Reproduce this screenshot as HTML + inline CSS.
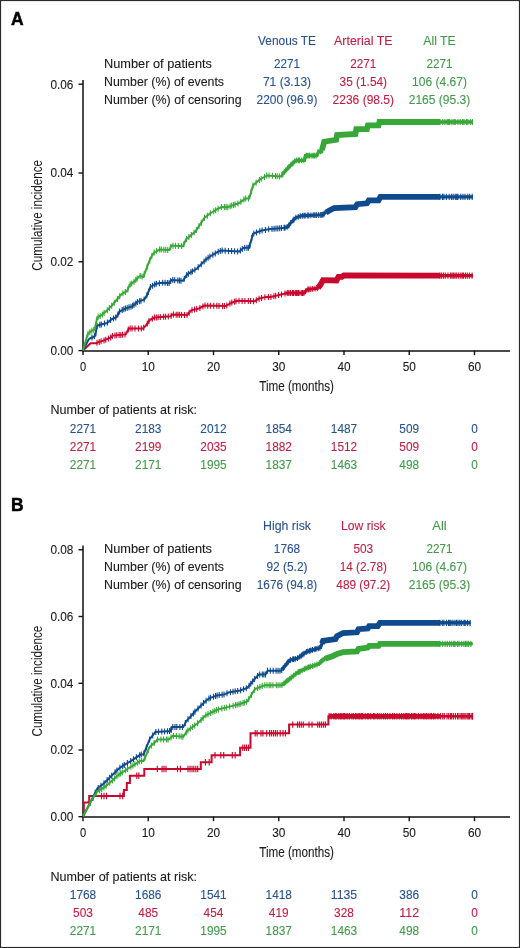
<!DOCTYPE html>
<html><head><meta charset="utf-8"><style>
html,body{margin:0;padding:0;background:#fff;}
svg{display:block;will-change:transform;}
text{font-family:"Liberation Sans",sans-serif;stroke-width:0.1px;}
</style></head><body>
<svg width="520" height="948" viewBox="0 0 520 948">
<rect x="0" y="0" width="520" height="948" fill="#fff"/>
<rect x="0.5" y="0.5" width="519" height="947" fill="none" stroke="#2a2a2a" stroke-width="1.2"/>
<text x="11" y="25" fill="#000" stroke="#000" font-size="18" text-anchor="start" textLength="12.6" lengthAdjust="spacingAndGlyphs" font-weight="bold" style="stroke-width:0.5px">A</text>
<text x="287" y="45" fill="#28528c" stroke="#28528c" font-size="12.4" text-anchor="middle" textLength="57.900000000000006" lengthAdjust="spacingAndGlyphs">Venous TE</text>
<text x="363.3" y="45" fill="#bc1f44" stroke="#bc1f44" font-size="12.4" text-anchor="middle" textLength="58.5" lengthAdjust="spacingAndGlyphs">Arterial TE</text>
<text x="439.5" y="45" fill="#43994a" stroke="#43994a" font-size="12.4" text-anchor="middle" textLength="32.5" lengthAdjust="spacingAndGlyphs">All TE</text>
<text x="104" y="67.7" fill="#1a1a1a" stroke="#1a1a1a" font-size="12.4" text-anchor="start" textLength="108" lengthAdjust="spacingAndGlyphs">Number of patients</text>
<text x="287" y="67.7" fill="#28528c" stroke="#28528c" font-size="12.4" text-anchor="middle" textLength="26.0" lengthAdjust="spacingAndGlyphs">2271</text>
<text x="363.3" y="67.7" fill="#bc1f44" stroke="#bc1f44" font-size="12.4" text-anchor="middle" textLength="26.0" lengthAdjust="spacingAndGlyphs">2271</text>
<text x="439.5" y="67.7" fill="#43994a" stroke="#43994a" font-size="12.4" text-anchor="middle" textLength="26.0" lengthAdjust="spacingAndGlyphs">2271</text>
<text x="104" y="85.5" fill="#1a1a1a" stroke="#1a1a1a" font-size="12.4" text-anchor="start" textLength="120" lengthAdjust="spacingAndGlyphs">Number (%) of events</text>
<text x="287" y="85.5" fill="#28528c" stroke="#28528c" font-size="12.4" text-anchor="middle" textLength="48.2" lengthAdjust="spacingAndGlyphs">71 (3.13)</text>
<text x="363.3" y="85.5" fill="#bc1f44" stroke="#bc1f44" font-size="12.4" text-anchor="middle" textLength="47.5" lengthAdjust="spacingAndGlyphs">35 (1.54)</text>
<text x="439.5" y="85.5" fill="#43994a" stroke="#43994a" font-size="12.4" text-anchor="middle" textLength="54.8" lengthAdjust="spacingAndGlyphs">106 (4.67)</text>
<text x="104" y="103.5" fill="#1a1a1a" stroke="#1a1a1a" font-size="12.4" text-anchor="start" textLength="137.6" lengthAdjust="spacingAndGlyphs">Number (%) of censoring</text>
<text x="287" y="103.5" fill="#28528c" stroke="#28528c" font-size="12.4" text-anchor="middle" textLength="60.9" lengthAdjust="spacingAndGlyphs">2200 (96.9)</text>
<text x="363.3" y="103.5" fill="#bc1f44" stroke="#bc1f44" font-size="12.4" text-anchor="middle" textLength="61.5" lengthAdjust="spacingAndGlyphs">2236 (98.5)</text>
<text x="439.5" y="103.5" fill="#43994a" stroke="#43994a" font-size="12.4" text-anchor="middle" textLength="61.5" lengthAdjust="spacingAndGlyphs">2165 (95.3)</text>
<path d="M83 80 V350.90000000000003 H510" fill="none" stroke="#111" stroke-width="1.5"/>
<path d="M78.5 84.2 H83" stroke="#111" stroke-width="1.4"/>
<text x="73.4" y="88.5" fill="#1a1a1a" stroke="#1a1a1a" font-size="12.4" text-anchor="end" textLength="23" lengthAdjust="spacingAndGlyphs">0.06</text>
<path d="M78.5 173.0 H83" stroke="#111" stroke-width="1.4"/>
<text x="73.4" y="177.3" fill="#1a1a1a" stroke="#1a1a1a" font-size="12.4" text-anchor="end" textLength="23" lengthAdjust="spacingAndGlyphs">0.04</text>
<path d="M78.5 261.8 H83" stroke="#111" stroke-width="1.4"/>
<text x="73.4" y="266.1" fill="#1a1a1a" stroke="#1a1a1a" font-size="12.4" text-anchor="end" textLength="23" lengthAdjust="spacingAndGlyphs">0.02</text>
<path d="M78.5 350.6 H83" stroke="#111" stroke-width="1.4"/>
<text x="73.4" y="354.90000000000003" fill="#1a1a1a" stroke="#1a1a1a" font-size="12.4" text-anchor="end" textLength="23" lengthAdjust="spacingAndGlyphs">0.00</text>
<path d="M83.0 350.6 V355.1" stroke="#111" stroke-width="1.4"/>
<text x="83.0" y="371.20000000000005" fill="#1a1a1a" stroke="#1a1a1a" font-size="12.4" text-anchor="middle" textLength="6.2" lengthAdjust="spacingAndGlyphs">0</text>
<path d="M148.25 350.6 V355.1" stroke="#111" stroke-width="1.4"/>
<text x="148.25" y="371.20000000000005" fill="#1a1a1a" stroke="#1a1a1a" font-size="12.4" text-anchor="middle" textLength="13.2" lengthAdjust="spacingAndGlyphs">10</text>
<path d="M213.5 350.6 V355.1" stroke="#111" stroke-width="1.4"/>
<text x="213.5" y="371.20000000000005" fill="#1a1a1a" stroke="#1a1a1a" font-size="12.4" text-anchor="middle" textLength="13.2" lengthAdjust="spacingAndGlyphs">20</text>
<path d="M278.75 350.6 V355.1" stroke="#111" stroke-width="1.4"/>
<text x="278.75" y="371.20000000000005" fill="#1a1a1a" stroke="#1a1a1a" font-size="12.4" text-anchor="middle" textLength="13.2" lengthAdjust="spacingAndGlyphs">30</text>
<path d="M344.0 350.6 V355.1" stroke="#111" stroke-width="1.4"/>
<text x="344.0" y="371.20000000000005" fill="#1a1a1a" stroke="#1a1a1a" font-size="12.4" text-anchor="middle" textLength="13.2" lengthAdjust="spacingAndGlyphs">40</text>
<path d="M409.25 350.6 V355.1" stroke="#111" stroke-width="1.4"/>
<text x="409.25" y="371.20000000000005" fill="#1a1a1a" stroke="#1a1a1a" font-size="12.4" text-anchor="middle" textLength="13.2" lengthAdjust="spacingAndGlyphs">50</text>
<path d="M474.5 350.6 V355.1" stroke="#111" stroke-width="1.4"/>
<text x="474.5" y="371.20000000000005" fill="#1a1a1a" stroke="#1a1a1a" font-size="12.4" text-anchor="middle" textLength="13.2" lengthAdjust="spacingAndGlyphs">60</text>
<text x="259.2" y="390.90000000000003" fill="#1a1a1a" stroke="#1a1a1a" font-size="13.8" text-anchor="start" textLength="74.8" lengthAdjust="spacingAndGlyphs">Time (months)</text>
<text x="0" y="0" fill="#1a1a1a" font-size="14.6" text-anchor="middle" textLength="110.8" lengthAdjust="spacingAndGlyphs" transform="translate(41.6 215.3) rotate(-90)">Cumulative incidence</text>
<text x="50.5" y="414.40000000000003" fill="#1a1a1a" stroke="#1a1a1a" font-size="12.4" text-anchor="start" textLength="146.5" lengthAdjust="spacingAndGlyphs">Number of patients at risk:</text>
<text x="83.0" y="432.6" fill="#28528c" stroke="#28528c" font-size="12.4" text-anchor="middle" textLength="26.4" lengthAdjust="spacingAndGlyphs">2271</text>
<text x="148.25" y="432.6" fill="#28528c" stroke="#28528c" font-size="12.4" text-anchor="middle" textLength="26.4" lengthAdjust="spacingAndGlyphs">2183</text>
<text x="213.5" y="432.6" fill="#28528c" stroke="#28528c" font-size="12.4" text-anchor="middle" textLength="26.4" lengthAdjust="spacingAndGlyphs">2012</text>
<text x="278.75" y="432.6" fill="#28528c" stroke="#28528c" font-size="12.4" text-anchor="middle" textLength="26.4" lengthAdjust="spacingAndGlyphs">1854</text>
<text x="344.0" y="432.6" fill="#28528c" stroke="#28528c" font-size="12.4" text-anchor="middle" textLength="26.4" lengthAdjust="spacingAndGlyphs">1487</text>
<text x="409.25" y="432.6" fill="#28528c" stroke="#28528c" font-size="12.4" text-anchor="middle" textLength="19.8" lengthAdjust="spacingAndGlyphs">509</text>
<text x="474.5" y="432.6" fill="#28528c" stroke="#28528c" font-size="12.4" text-anchor="middle" textLength="6.6" lengthAdjust="spacingAndGlyphs">0</text>
<text x="83.0" y="450.6" fill="#bc1f44" stroke="#bc1f44" font-size="12.4" text-anchor="middle" textLength="26.4" lengthAdjust="spacingAndGlyphs">2271</text>
<text x="148.25" y="450.6" fill="#bc1f44" stroke="#bc1f44" font-size="12.4" text-anchor="middle" textLength="26.4" lengthAdjust="spacingAndGlyphs">2199</text>
<text x="213.5" y="450.6" fill="#bc1f44" stroke="#bc1f44" font-size="12.4" text-anchor="middle" textLength="26.4" lengthAdjust="spacingAndGlyphs">2035</text>
<text x="278.75" y="450.6" fill="#bc1f44" stroke="#bc1f44" font-size="12.4" text-anchor="middle" textLength="26.4" lengthAdjust="spacingAndGlyphs">1882</text>
<text x="344.0" y="450.6" fill="#bc1f44" stroke="#bc1f44" font-size="12.4" text-anchor="middle" textLength="26.4" lengthAdjust="spacingAndGlyphs">1512</text>
<text x="409.25" y="450.6" fill="#bc1f44" stroke="#bc1f44" font-size="12.4" text-anchor="middle" textLength="19.8" lengthAdjust="spacingAndGlyphs">509</text>
<text x="474.5" y="450.6" fill="#bc1f44" stroke="#bc1f44" font-size="12.4" text-anchor="middle" textLength="6.6" lengthAdjust="spacingAndGlyphs">0</text>
<text x="83.0" y="468.6" fill="#43994a" stroke="#43994a" font-size="12.4" text-anchor="middle" textLength="26.4" lengthAdjust="spacingAndGlyphs">2271</text>
<text x="148.25" y="468.6" fill="#43994a" stroke="#43994a" font-size="12.4" text-anchor="middle" textLength="26.4" lengthAdjust="spacingAndGlyphs">2171</text>
<text x="213.5" y="468.6" fill="#43994a" stroke="#43994a" font-size="12.4" text-anchor="middle" textLength="26.4" lengthAdjust="spacingAndGlyphs">1995</text>
<text x="278.75" y="468.6" fill="#43994a" stroke="#43994a" font-size="12.4" text-anchor="middle" textLength="26.4" lengthAdjust="spacingAndGlyphs">1837</text>
<text x="344.0" y="468.6" fill="#43994a" stroke="#43994a" font-size="12.4" text-anchor="middle" textLength="26.4" lengthAdjust="spacingAndGlyphs">1463</text>
<text x="409.25" y="468.6" fill="#43994a" stroke="#43994a" font-size="12.4" text-anchor="middle" textLength="19.8" lengthAdjust="spacingAndGlyphs">498</text>
<text x="474.5" y="468.6" fill="#43994a" stroke="#43994a" font-size="12.4" text-anchor="middle" textLength="6.6" lengthAdjust="spacingAndGlyphs">0</text>
<path d="M83.0 350.5 L90.6 343.3 L96.3 343.3 L97.8 342.3 L104.0 340.4 L110.8 337.5 L112.7 335.6 L125.8 334.4 L128.7 328.6 L143.0 328.4 L145.4 326.1 L150.0 319.8 L154.6 317.5 L170.7 316.3 L171.9 314.6 L187.3 315.0 L191.2 310.4 L198.8 308.5 L204.6 305.6 L225.8 306.0 L231.5 302.7 L237.3 300.8 L254.6 301.2 L258.5 298.8 L266.2 296.9 L270.8 296.9 L284.3 293.7 L286.7 293.0 L304.2 293.0 L306.9 289.6 L317.7 288.3 L320.4 284.9 L323.0 280.2 L336.5 280.5 L338.5 276.8 L341.9 276.8 L343.9 275.5 L473.0 275.6" fill="none" stroke="#c8082c" stroke-width="2.0" stroke-linejoin="miter"/>
<path d="M285.0 293.5 L286.7 293.0 L304.2 293.0 L306.9 289.6 L317.7 288.3 L318.0 287.9" fill="none" stroke="#c8082c" stroke-width="3.0" stroke-linejoin="miter"/>
<path d="M318.0 287.9 L320.4 284.9 L323.0 280.2 L336.5 280.5 L338.5 276.8 L341.9 276.8 L343.9 275.5 L440.0 275.6" fill="none" stroke="#c8082c" stroke-width="5.8" stroke-linejoin="miter"/>
<path d="M440.0 275.6 L473.0 275.6" fill="none" stroke="#c8082c" stroke-width="3.4" stroke-linejoin="miter"/>
<path d="M97.0 339.8V345.8M99.2 338.9V344.9M101.1 338.3V344.3M104.0 337.4V343.4M105.7 336.7V342.7M108.4 335.5V341.5M110.7 334.5V340.5M112.4 332.9V338.9M115.0 332.4V338.4M116.7 332.2V338.2M119.1 332.0V338.0M120.8 331.9V337.9M122.6 331.7V337.7M125.0 331.5V337.5M128.3 326.4V332.4M130.1 325.6V331.6M132.1 325.6V331.6M135.0 325.5V331.5M138.5 325.5V331.5M141.3 325.4V331.4M143.7 324.7V330.7M147.3 320.5V326.5M148.9 318.3V324.3M152.3 315.7V321.7M154.4 314.6V320.6M156.3 314.4V320.4M158.1 314.2V320.2M160.3 314.1V320.1M163.6 313.8V319.8M165.5 313.7V319.7M168.3 313.5V319.5M171.2 312.7V318.7M173.5 311.6V317.6M176.2 311.7V317.7M177.9 311.8V317.8M179.6 311.8V317.8M181.6 311.9V317.9M184.5 311.9V317.9M187.0 312.0V318.0M189.2 309.8V315.8M192.0 307.2V313.2M194.5 306.6V312.6M196.7 306.0V312.0M199.9 305.0V311.0M202.9 303.5V309.5M205.0 302.6V308.6M207.7 302.7V308.7M210.4 302.7V308.7M213.7 302.8V308.8M216.8 302.8V308.8M219.0 302.9V308.9M222.6 302.9V308.9M224.4 303.0V309.0M226.8 302.4V308.4M229.9 300.6V306.6M231.8 299.6V305.6M234.4 298.8V304.8M236.0 298.2V304.2M239.0 297.8V303.8M242.1 297.9V303.9M244.9 298.0V304.0M248.3 298.1V304.1M250.5 298.1V304.1M253.5 298.2V304.2M256.3 297.2V303.2M259.1 295.7V301.7M261.6 295.0V301.0M264.9 294.2V300.2M268.4 293.9V299.9M270.9 293.9V299.9M273.9 293.2V299.2M275.6 292.8V298.8M278.6 292.1V298.1M281.5 291.4V297.4M285.0 290.6V296.4M287.3 290.1V295.9M288.8 290.1V295.9M290.4 290.1V295.9M292.4 290.1V295.9M293.5 290.1V295.9M295.3 290.1V295.9M296.6 290.1V295.9M297.9 290.1V295.9M299.0 290.1V295.9M301.2 290.1V295.9M302.5 290.1V295.9M303.9 290.1V295.9M305.6 288.4V294.2M307.9 286.6V292.4M309.1 286.4V292.2M310.8 286.2V292.0M312.7 286.0V291.8M315.0 285.7V291.5M317.3 285.4V291.2M440.0 272.5V278.7M441.6 272.5V278.7M443.5 272.5V278.7M445.3 272.5V278.7M447.9 272.5V278.7M450.6 272.5V278.7M452.1 272.5V278.7M453.6 272.5V278.7M455.1 272.5V278.7M456.7 272.5V278.7M458.7 272.5V278.7M460.8 272.5V278.7M462.4 272.5V278.7M463.6 272.5V278.7M465.5 272.5V278.7M467.3 272.5V278.7M469.4 272.5V278.7M472.1 272.5V278.7" stroke="#c8082c" stroke-width="1.1"/>
<path d="M83.0 350.5 L88.7 339.4 L90.6 338.0 L93.5 337.0 L95.4 335.6 L96.8 326.0 L99.2 325.0 L107.0 323.0 L111.7 319.2 L116.5 317.3 L119.4 311.5 L124.6 308.8 L131.5 306.5 L135.0 304.2 L137.3 301.9 L144.2 299.6 L147.1 295.0 L150.4 287.0 L156.1 283.8 L161.9 282.7 L169.2 283.0 L171.5 280.0 L183.0 280.8 L187.0 274.6 L197.0 268.5 L206.2 259.2 L210.8 256.0 L218.5 251.5 L221.5 250.5 L239.2 251.5 L243.8 247.7 L249.2 247.7 L253.0 233.8 L260.8 230.8 L268.5 229.2 L285.4 227.7 L288.5 226.2 L290.0 223.5 L295.8 217.7 L301.5 215.8 L322.7 214.8 L328.5 211.0 L334.2 208.0 L355.4 207.1 L357.3 204.2 L366.9 203.3 L368.8 200.4 L378.5 200.4 L380.4 196.9 L473.0 196.9" fill="none" stroke="#0f4b8c" stroke-width="2.0" stroke-linejoin="miter"/>
<path d="M285.0 227.7 L285.4 227.7 L288.5 226.2 L290.0 223.5 L295.8 217.7 L301.5 215.8 L322.7 214.8 L326.0 212.6" fill="none" stroke="#0f4b8c" stroke-width="3.0" stroke-linejoin="miter"/>
<path d="M326.0 212.6 L328.5 211.0 L334.2 208.0 L355.4 207.1 L357.3 204.2 L366.9 203.3 L368.8 200.4 L378.5 200.4 L380.4 196.9 L440.0 196.9" fill="none" stroke="#0f4b8c" stroke-width="5.8" stroke-linejoin="miter"/>
<path d="M440.0 196.9 L473.0 196.9" fill="none" stroke="#0f4b8c" stroke-width="3.4" stroke-linejoin="miter"/>
<path d="M92.0 334.5V340.5M94.4 333.3V339.3M97.1 322.9V328.9M99.8 321.8V327.8M101.3 321.5V327.5M104.5 320.6V326.6M107.4 319.6V325.6M110.6 317.1V323.1M113.5 315.5V321.5M115.7 314.6V320.6M117.9 311.4V317.4M119.6 308.4V314.4M122.2 307.0V313.0M123.8 306.2V312.2M125.4 305.5V311.5M127.2 304.9V310.9M129.0 304.3V310.3M131.0 303.7V309.7M132.6 302.8V308.8M134.0 301.8V307.8M135.8 300.4V306.4M137.4 298.9V304.9M139.5 298.2V304.2M141.0 297.7V303.7M144.1 296.6V302.6M146.8 292.5V298.5M148.5 288.7V294.7M150.4 284.0V290.0M152.5 282.8V288.8M154.7 281.6V287.6M156.3 280.8V286.8M159.4 280.2V286.2M162.7 279.7V285.7M165.1 279.8V285.8M167.4 279.9V285.9M169.1 280.0V286.0M170.7 278.1V284.1M172.8 277.1V283.1M174.7 277.2V283.2M177.8 277.4V283.4M179.5 277.6V283.6M181.0 277.7V283.7M184.3 275.8V281.8M186.7 272.0V278.0M188.4 270.7V276.7M190.9 269.2V275.2M192.4 268.3V274.3M194.9 266.8V272.8M198.2 264.3V270.3M201.3 261.2V267.2M204.1 258.4V264.4M206.0 256.4V262.4M208.1 254.8V260.8M209.9 253.6V259.6M212.8 251.8V257.8M215.3 250.4V256.4M218.2 248.7V254.7M220.3 247.9V253.9M222.2 247.5V253.5M225.2 247.7V253.7M228.5 247.9V253.9M231.6 248.1V254.1M234.6 248.2V254.2M237.6 248.4V254.4M240.4 247.5V253.5M242.3 245.9V251.9M244.7 244.7V250.7M246.9 244.7V250.7M248.4 244.7V250.7M249.9 242.3V248.3M251.8 235.1V241.1M253.8 230.5V236.5M256.5 229.4V235.4M259.8 228.2V234.2M262.1 227.5V233.5M265.4 226.9V232.9M268.7 226.2V232.2M272.0 225.9V231.9M274.1 225.7V231.7M276.0 225.5V231.5M277.8 225.4V231.4M279.7 225.2V231.2M281.5 225.0V231.0M284.1 224.8V230.8M285.0 224.8V230.6M287.2 223.9V229.7M288.8 222.7V228.5M290.7 219.9V225.7M292.9 217.7V223.5M294.0 216.6V222.4M295.9 214.8V220.6M298.2 214.0V219.8M300.2 213.3V219.1M302.3 212.9V218.7M304.0 212.8V218.6M305.2 212.7V218.5M307.3 212.6V218.4M308.8 212.6V218.4M310.9 212.5V218.3M313.2 212.3V218.1M314.8 212.3V218.1M316.4 212.2V218.0M318.7 212.1V217.9M320.7 212.0V217.8M321.9 211.9V217.7M323.1 211.6V217.4M324.3 210.8V216.6M440.0 193.8V200.0M442.5 193.8V200.0M443.9 193.8V200.0M446.4 193.8V200.0M449.2 193.8V200.0M451.5 193.8V200.0M453.2 193.8V200.0M455.3 193.8V200.0M456.7 193.8V200.0M457.9 193.8V200.0M460.7 193.8V200.0M462.9 193.8V200.0M465.0 193.8V200.0M467.7 193.8V200.0M469.6 193.8V200.0M472.2 193.8V200.0" stroke="#0f4b8c" stroke-width="1.1"/>
<path d="M83.0 350.5 L87.7 334.0 L91.5 330.8 L94.4 329.8 L95.9 324.0 L97.3 317.3 L101.2 315.4 L106.9 310.6 L111.7 305.8 L116.5 300.0 L121.5 294.2 L127.3 290.7 L129.6 285.0 L134.2 281.5 L140.0 275.8 L143.4 276.9 L144.6 273.4 L150.4 258.5 L153.8 252.7 L159.6 249.5 L169.2 250.0 L171.5 245.6 L183.0 246.2 L186.2 239.2 L195.4 231.5 L204.6 217.7 L210.8 213.0 L218.5 208.5 L221.5 207.0 L227.7 207.2 L232.3 205.4 L239.2 203.0 L245.4 198.5 L249.2 198.5 L253.0 185.4 L259.2 180.0 L267.0 175.4 L280.8 176.5 L285.4 170.8 L290.0 165.8 L295.8 160.4 L304.4 160.4 L305.4 155.6 L316.9 155.6 L318.8 151.3 L321.7 151.3 L324.2 141.7 L336.2 139.8 L337.1 135.0 L355.4 134.0 L356.3 129.2 L366.9 129.2 L367.9 125.4 L378.5 125.4 L379.4 122.0 L473.0 122.0" fill="none" stroke="#37a837" stroke-width="2.0" stroke-linejoin="miter"/>
<path d="M283.0 173.8 L285.4 170.8 L290.0 165.8 L295.8 160.4 L304.4 160.4 L305.4 155.6 L316.9 155.6 L318.8 151.3 L321.7 151.3 L322.0 150.1" fill="none" stroke="#37a837" stroke-width="3.4" stroke-linejoin="miter"/>
<path d="M322.0 150.1 L324.2 141.7 L336.2 139.8 L337.1 135.0 L355.4 134.0 L356.3 129.2 L366.9 129.2 L367.9 125.4 L378.5 125.4 L379.4 122.0 L440.0 122.0" fill="none" stroke="#37a837" stroke-width="5.8" stroke-linejoin="miter"/>
<path d="M440.0 122.0 L473.0 122.0" fill="none" stroke="#37a837" stroke-width="3.4" stroke-linejoin="miter"/>
<path d="M88.0 330.7V336.7M89.8 329.2V335.2M91.8 327.7V333.7M93.8 327.0V333.0M95.7 321.9V327.9M98.2 313.8V319.8M100.2 312.9V318.9M102.4 311.4V317.4M104.1 309.9V315.9M107.3 307.2V313.2M109.4 305.1V311.1M111.7 302.8V308.8M114.3 299.7V305.7M117.5 295.9V301.9M119.7 293.3V299.3M122.9 290.3V296.3M125.3 288.9V294.9M127.8 286.5V292.5M130.2 281.5V287.5M131.7 280.4V286.4M134.0 278.7V284.7M135.8 276.9V282.9M137.2 275.5V281.5M140.2 272.9V278.9M142.0 273.4V279.4M144.3 271.2V277.2M147.2 263.8V269.8M149.7 257.4V263.4M151.7 253.2V259.2M154.2 249.5V255.5M156.7 248.1V254.1M159.6 246.5V252.5M161.3 246.6V252.6M163.8 246.7V252.7M165.7 246.8V252.8M167.7 246.9V252.9M170.6 244.3V250.3M173.0 242.7V248.7M175.5 242.8V248.8M178.4 243.0V249.0M181.6 243.1V249.1M183.9 241.2V247.2M186.5 235.9V241.9M188.9 233.9V239.9M191.4 231.9V237.9M194.1 229.6V235.6M196.4 226.9V232.9M198.9 223.2V229.2M201.3 219.7V225.7M204.5 214.8V220.8M207.3 212.7V218.7M210.4 210.3V216.3M213.7 208.3V214.3M215.6 207.2V213.2M218.1 205.7V211.7M221.4 204.1V210.1M224.4 204.1V210.1M226.1 204.1V210.1M227.8 204.2V210.2M230.1 203.3V209.3M231.7 202.6V208.6M233.6 202.0V208.0M235.1 201.4V207.4M237.9 200.5V206.5M240.8 198.8V204.8M244.0 196.5V202.5M245.7 195.5V201.5M248.5 195.5V201.5M251.2 188.5V194.5M253.0 182.6V188.6M256.1 179.7V185.7M259.4 176.9V182.9M261.2 175.8V181.8M264.5 173.9V179.9M266.7 172.6V178.6M269.1 172.6V178.6M272.4 172.8V178.8M275.5 173.1V179.1M277.2 173.2V179.2M279.5 173.4V179.4M281.9 172.1V178.1M283.0 170.9V176.7M284.3 169.3V175.1M285.7 167.5V173.3M287.7 165.4V171.2M288.8 164.2V170.0M290.6 162.4V168.2M292.2 160.9V166.7M293.2 159.9V165.7M294.7 158.5V164.3M296.6 157.5V163.3M298.3 157.5V163.3M299.4 157.5V163.3M301.7 157.5V163.3M303.8 157.5V163.3M306.2 152.7V158.5M307.3 152.7V158.5M308.7 152.7V158.5M309.8 152.7V158.5M311.9 152.7V158.5M313.3 152.7V158.5M314.5 152.7V158.5M316.1 152.7V158.5M318.3 149.5V155.3M320.5 148.4V154.2M321.8 147.9V153.7M440.0 118.9V125.1M442.7 118.9V125.1M444.8 118.9V125.1M447.1 118.9V125.1M448.4 118.9V125.1M449.7 118.9V125.1M452.0 118.9V125.1M453.9 118.9V125.1M455.2 118.9V125.1M457.9 118.9V125.1M460.2 118.9V125.1M462.6 118.9V125.1M464.0 118.9V125.1M466.5 118.9V125.1M467.8 118.9V125.1M470.4 118.9V125.1M472.4 118.9V125.1" stroke="#37a837" stroke-width="1.1"/>
<text x="11" y="510.5" fill="#000" stroke="#000" font-size="18" text-anchor="start" textLength="12.6" lengthAdjust="spacingAndGlyphs" font-weight="bold" style="stroke-width:0.5px">B</text>
<text x="287" y="530" fill="#28528c" stroke="#28528c" font-size="12.4" text-anchor="middle" textLength="47.900000000000006" lengthAdjust="spacingAndGlyphs">High risk</text>
<text x="363.3" y="530" fill="#bc1f44" stroke="#bc1f44" font-size="12.4" text-anchor="middle" textLength="44.400000000000006" lengthAdjust="spacingAndGlyphs">Low risk</text>
<text x="439.5" y="530" fill="#43994a" stroke="#43994a" font-size="12.4" text-anchor="middle" textLength="14.399999999999999" lengthAdjust="spacingAndGlyphs">All</text>
<text x="104" y="552.7" fill="#1a1a1a" stroke="#1a1a1a" font-size="12.4" text-anchor="start" textLength="108" lengthAdjust="spacingAndGlyphs">Number of patients</text>
<text x="287" y="552.7" fill="#28528c" stroke="#28528c" font-size="12.4" text-anchor="middle" textLength="26.4" lengthAdjust="spacingAndGlyphs">1768</text>
<text x="363.3" y="552.7" fill="#bc1f44" stroke="#bc1f44" font-size="12.4" text-anchor="middle" textLength="19.8" lengthAdjust="spacingAndGlyphs">503</text>
<text x="439.5" y="552.7" fill="#43994a" stroke="#43994a" font-size="12.4" text-anchor="middle" textLength="26.0" lengthAdjust="spacingAndGlyphs">2271</text>
<text x="104" y="570.5" fill="#1a1a1a" stroke="#1a1a1a" font-size="12.4" text-anchor="start" textLength="120" lengthAdjust="spacingAndGlyphs">Number (%) of events</text>
<text x="287" y="570.5" fill="#28528c" stroke="#28528c" font-size="12.4" text-anchor="middle" textLength="41.0" lengthAdjust="spacingAndGlyphs">92 (5.2)</text>
<text x="363.3" y="570.5" fill="#bc1f44" stroke="#bc1f44" font-size="12.4" text-anchor="middle" textLength="47.1" lengthAdjust="spacingAndGlyphs">14 (2.78)</text>
<text x="439.5" y="570.5" fill="#43994a" stroke="#43994a" font-size="12.4" text-anchor="middle" textLength="54.8" lengthAdjust="spacingAndGlyphs">106 (4.67)</text>
<text x="104" y="588.5" fill="#1a1a1a" stroke="#1a1a1a" font-size="12.4" text-anchor="start" textLength="137.6" lengthAdjust="spacingAndGlyphs">Number (%) of censoring</text>
<text x="287" y="588.5" fill="#28528c" stroke="#28528c" font-size="12.4" text-anchor="middle" textLength="60.4" lengthAdjust="spacingAndGlyphs">1676 (94.8)</text>
<text x="363.3" y="588.5" fill="#bc1f44" stroke="#bc1f44" font-size="12.4" text-anchor="middle" textLength="53.9" lengthAdjust="spacingAndGlyphs">489 (97.2)</text>
<text x="439.5" y="588.5" fill="#43994a" stroke="#43994a" font-size="12.4" text-anchor="middle" textLength="61.5" lengthAdjust="spacingAndGlyphs">2165 (95.3)</text>
<path d="M83 545.6 V817.0 H510" fill="none" stroke="#111" stroke-width="1.5"/>
<path d="M78.5 549.8 H83" stroke="#111" stroke-width="1.4"/>
<text x="73.4" y="554.0999999999999" fill="#1a1a1a" stroke="#1a1a1a" font-size="12.4" text-anchor="end" textLength="23" lengthAdjust="spacingAndGlyphs">0.08</text>
<path d="M78.5 616.5 H83" stroke="#111" stroke-width="1.4"/>
<text x="73.4" y="620.8" fill="#1a1a1a" stroke="#1a1a1a" font-size="12.4" text-anchor="end" textLength="23" lengthAdjust="spacingAndGlyphs">0.06</text>
<path d="M78.5 683.3 H83" stroke="#111" stroke-width="1.4"/>
<text x="73.4" y="687.5999999999999" fill="#1a1a1a" stroke="#1a1a1a" font-size="12.4" text-anchor="end" textLength="23" lengthAdjust="spacingAndGlyphs">0.04</text>
<path d="M78.5 750.0 H83" stroke="#111" stroke-width="1.4"/>
<text x="73.4" y="754.3" fill="#1a1a1a" stroke="#1a1a1a" font-size="12.4" text-anchor="end" textLength="23" lengthAdjust="spacingAndGlyphs">0.02</text>
<path d="M78.5 816.7 H83" stroke="#111" stroke-width="1.4"/>
<text x="73.4" y="821.0" fill="#1a1a1a" stroke="#1a1a1a" font-size="12.4" text-anchor="end" textLength="23" lengthAdjust="spacingAndGlyphs">0.00</text>
<path d="M83.0 816.7 V821.2" stroke="#111" stroke-width="1.4"/>
<text x="83.0" y="837.3000000000001" fill="#1a1a1a" stroke="#1a1a1a" font-size="12.4" text-anchor="middle" textLength="6.2" lengthAdjust="spacingAndGlyphs">0</text>
<path d="M148.25 816.7 V821.2" stroke="#111" stroke-width="1.4"/>
<text x="148.25" y="837.3000000000001" fill="#1a1a1a" stroke="#1a1a1a" font-size="12.4" text-anchor="middle" textLength="13.2" lengthAdjust="spacingAndGlyphs">10</text>
<path d="M213.5 816.7 V821.2" stroke="#111" stroke-width="1.4"/>
<text x="213.5" y="837.3000000000001" fill="#1a1a1a" stroke="#1a1a1a" font-size="12.4" text-anchor="middle" textLength="13.2" lengthAdjust="spacingAndGlyphs">20</text>
<path d="M278.75 816.7 V821.2" stroke="#111" stroke-width="1.4"/>
<text x="278.75" y="837.3000000000001" fill="#1a1a1a" stroke="#1a1a1a" font-size="12.4" text-anchor="middle" textLength="13.2" lengthAdjust="spacingAndGlyphs">30</text>
<path d="M344.0 816.7 V821.2" stroke="#111" stroke-width="1.4"/>
<text x="344.0" y="837.3000000000001" fill="#1a1a1a" stroke="#1a1a1a" font-size="12.4" text-anchor="middle" textLength="13.2" lengthAdjust="spacingAndGlyphs">40</text>
<path d="M409.25 816.7 V821.2" stroke="#111" stroke-width="1.4"/>
<text x="409.25" y="837.3000000000001" fill="#1a1a1a" stroke="#1a1a1a" font-size="12.4" text-anchor="middle" textLength="13.2" lengthAdjust="spacingAndGlyphs">50</text>
<path d="M474.5 816.7 V821.2" stroke="#111" stroke-width="1.4"/>
<text x="474.5" y="837.3000000000001" fill="#1a1a1a" stroke="#1a1a1a" font-size="12.4" text-anchor="middle" textLength="13.2" lengthAdjust="spacingAndGlyphs">60</text>
<text x="259.2" y="857.0" fill="#1a1a1a" stroke="#1a1a1a" font-size="13.8" text-anchor="start" textLength="74.8" lengthAdjust="spacingAndGlyphs">Time (months)</text>
<text x="0" y="0" fill="#1a1a1a" font-size="14.6" text-anchor="middle" textLength="110.8" lengthAdjust="spacingAndGlyphs" transform="translate(41.6 681.1500000000001) rotate(-90)">Cumulative incidence</text>
<text x="50.5" y="880.5" fill="#1a1a1a" stroke="#1a1a1a" font-size="12.4" text-anchor="start" textLength="146.5" lengthAdjust="spacingAndGlyphs">Number of patients at risk:</text>
<text x="83.0" y="898.7" fill="#28528c" stroke="#28528c" font-size="12.4" text-anchor="middle" textLength="26.4" lengthAdjust="spacingAndGlyphs">1768</text>
<text x="148.25" y="898.7" fill="#28528c" stroke="#28528c" font-size="12.4" text-anchor="middle" textLength="26.4" lengthAdjust="spacingAndGlyphs">1686</text>
<text x="213.5" y="898.7" fill="#28528c" stroke="#28528c" font-size="12.4" text-anchor="middle" textLength="26.4" lengthAdjust="spacingAndGlyphs">1541</text>
<text x="278.75" y="898.7" fill="#28528c" stroke="#28528c" font-size="12.4" text-anchor="middle" textLength="26.4" lengthAdjust="spacingAndGlyphs">1418</text>
<text x="344.0" y="898.7" fill="#28528c" stroke="#28528c" font-size="12.4" text-anchor="middle" textLength="26.4" lengthAdjust="spacingAndGlyphs">1135</text>
<text x="409.25" y="898.7" fill="#28528c" stroke="#28528c" font-size="12.4" text-anchor="middle" textLength="19.8" lengthAdjust="spacingAndGlyphs">386</text>
<text x="474.5" y="898.7" fill="#28528c" stroke="#28528c" font-size="12.4" text-anchor="middle" textLength="6.6" lengthAdjust="spacingAndGlyphs">0</text>
<text x="83.0" y="916.7" fill="#bc1f44" stroke="#bc1f44" font-size="12.4" text-anchor="middle" textLength="19.8" lengthAdjust="spacingAndGlyphs">503</text>
<text x="148.25" y="916.7" fill="#bc1f44" stroke="#bc1f44" font-size="12.4" text-anchor="middle" textLength="19.8" lengthAdjust="spacingAndGlyphs">485</text>
<text x="213.5" y="916.7" fill="#bc1f44" stroke="#bc1f44" font-size="12.4" text-anchor="middle" textLength="19.8" lengthAdjust="spacingAndGlyphs">454</text>
<text x="278.75" y="916.7" fill="#bc1f44" stroke="#bc1f44" font-size="12.4" text-anchor="middle" textLength="19.8" lengthAdjust="spacingAndGlyphs">419</text>
<text x="344.0" y="916.7" fill="#bc1f44" stroke="#bc1f44" font-size="12.4" text-anchor="middle" textLength="19.8" lengthAdjust="spacingAndGlyphs">328</text>
<text x="409.25" y="916.7" fill="#bc1f44" stroke="#bc1f44" font-size="12.4" text-anchor="middle" textLength="19.8" lengthAdjust="spacingAndGlyphs">112</text>
<text x="474.5" y="916.7" fill="#bc1f44" stroke="#bc1f44" font-size="12.4" text-anchor="middle" textLength="6.6" lengthAdjust="spacingAndGlyphs">0</text>
<text x="83.0" y="934.7" fill="#43994a" stroke="#43994a" font-size="12.4" text-anchor="middle" textLength="26.4" lengthAdjust="spacingAndGlyphs">2271</text>
<text x="148.25" y="934.7" fill="#43994a" stroke="#43994a" font-size="12.4" text-anchor="middle" textLength="26.4" lengthAdjust="spacingAndGlyphs">2171</text>
<text x="213.5" y="934.7" fill="#43994a" stroke="#43994a" font-size="12.4" text-anchor="middle" textLength="26.4" lengthAdjust="spacingAndGlyphs">1995</text>
<text x="278.75" y="934.7" fill="#43994a" stroke="#43994a" font-size="12.4" text-anchor="middle" textLength="26.4" lengthAdjust="spacingAndGlyphs">1837</text>
<text x="344.0" y="934.7" fill="#43994a" stroke="#43994a" font-size="12.4" text-anchor="middle" textLength="26.4" lengthAdjust="spacingAndGlyphs">1463</text>
<text x="409.25" y="934.7" fill="#43994a" stroke="#43994a" font-size="12.4" text-anchor="middle" textLength="19.8" lengthAdjust="spacingAndGlyphs">498</text>
<text x="474.5" y="934.7" fill="#43994a" stroke="#43994a" font-size="12.4" text-anchor="middle" textLength="6.6" lengthAdjust="spacingAndGlyphs">0</text>
<path d="M83.0 816.5 L83.8 816.5 L83.8 802.4 L89.2 802.4 L89.2 796.0 L123.9 796.0 L123.9 789.9 L126.8 789.9 L126.8 783.0 L129.9 783.0 L129.9 775.8 L144.3 775.8 L144.3 769.0 L200.8 769.0 L200.8 762.3 L211.6 762.3 L211.6 755.2 L240.1 755.2 L240.1 747.7 L250.5 747.7 L250.5 733.3 L289.1 733.3 L289.1 724.6 L328.4 724.6 L328.4 716.3 L472.6 716.3" fill="none" stroke="#c8082c" stroke-width="2.0" stroke-linejoin="miter"/>
<path d="M329.0 716.3 L440.0 716.3" fill="none" stroke="#c8082c" stroke-width="4.8" stroke-linejoin="miter"/>
<path d="M440.0 716.3 L472.6 716.3" fill="none" stroke="#c8082c" stroke-width="2.4" stroke-linejoin="miter"/>
<path d="M329.0 713.0V719.6M331.1 713.0V719.6M333.8 713.0V719.6M335.4 713.0V719.6M336.8 713.0V719.6M338.8 713.0V719.6M340.4 713.0V719.6M341.8 713.0V719.6M343.3 713.0V719.6M344.5 713.0V719.6M346.1 713.0V719.6M347.8 713.0V719.6M349.5 713.0V719.6M351.9 713.0V719.6M353.5 713.0V719.6M355.5 713.0V719.6M357.0 713.0V719.6M358.8 713.0V719.6M360.0 713.0V719.6M361.6 713.0V719.6M362.8 713.0V719.6M365.2 713.0V719.6M367.3 713.0V719.6M368.8 713.0V719.6M370.7 713.0V719.6M373.4 713.0V719.6M374.8 713.0V719.6M377.3 713.0V719.6M379.2 713.0V719.6M381.2 713.0V719.6M383.7 713.0V719.6M385.6 713.0V719.6M387.6 713.0V719.6M389.9 713.0V719.6M392.6 713.0V719.6M394.4 713.0V719.6M396.9 713.0V719.6M399.3 713.0V719.6M401.5 713.0V719.6M403.3 713.0V719.6M405.1 713.0V719.6M406.4 713.0V719.6M407.8 713.0V719.6M409.1 713.0V719.6M411.5 713.0V719.6M413.1 713.0V719.6M414.5 713.0V719.6M415.9 713.0V719.6M418.4 713.0V719.6M421.0 713.0V719.6M423.3 713.0V719.6M424.9 713.0V719.6M426.5 713.0V719.6M428.2 713.0V719.6M430.1 713.0V719.6M431.6 713.0V719.6M433.5 713.0V719.6M435.1 713.0V719.6M437.9 713.0V719.6M440.6 713.0V719.6M442.7 713.0V719.6M444.3 713.0V719.6M447.0 713.0V719.6M448.7 713.0V719.6M450.5 713.0V719.6M451.7 713.0V719.6M453.5 713.0V719.6M455.5 713.0V719.6M457.5 713.0V719.6M459.0 713.0V719.6M461.0 713.0V719.6M462.2 713.0V719.6M463.8 713.0V719.6M465.2 713.0V719.6M467.0 713.0V719.6M468.3 713.0V719.6M469.5 713.0V719.6M471.2 713.0V719.6" stroke="#c8082c" stroke-width="1.1"/>
<path d="M101.5 792.8V799.2M104 792.8V799.2M106.5 792.8V799.2M120 792.8V799.2M122.7 792.8V799.2M136.8 772.5999999999999V779.0M138.8 772.5999999999999V779.0M157.3 765.8V772.2M162.1 765.8V772.2M164 765.8V772.2M166 765.8V772.2M177.5 765.8V772.2M180.4 765.8V772.2M188 765.8V772.2M190 765.8V772.2M192 765.8V772.2M193.8 765.8V772.2M195.8 765.8V772.2M197.7 765.8V772.2M205.4 759.0999999999999V765.5M209.2 759.0999999999999V765.5M215 752.0V758.4000000000001M220.8 752.0V758.4000000000001M223.7 752.0V758.4000000000001M232.3 752.0V758.4000000000001M235.2 752.0V758.4000000000001M242.7 744.5V750.9000000000001M244.6 744.5V750.9000000000001M246.5 744.5V750.9000000000001M248.5 744.5V750.9000000000001M255.2 730.0999999999999V736.5M257.1 730.0999999999999V736.5M261 730.0999999999999V736.5M262.9 730.0999999999999V736.5M266.7 730.0999999999999V736.5M269.6 730.0999999999999V736.5M271.5 730.0999999999999V736.5M273.5 730.0999999999999V736.5M275.4 730.0999999999999V736.5M277.3 730.0999999999999V736.5M280.2 730.0999999999999V736.5M283 730.0999999999999V736.5M285.4 730.0999999999999V736.5M292.7 721.4V727.8000000000001M297.5 721.4V727.8000000000001M299.4 721.4V727.8000000000001M301.3 721.4V727.8000000000001M303.3 721.4V727.8000000000001M309 721.4V727.8000000000001M312 721.4V727.8000000000001M317.7 721.4V727.8000000000001M319.6 721.4V727.8000000000001M321.5 721.4V727.8000000000001M323.5 721.4V727.8000000000001M325.4 721.4V727.8000000000001M472.6 712.9V719.6999999999999" stroke="#c8082c" stroke-width="1.15"/>
<path d="M83.0 816.5 L91.2 800.8 L97.4 788.5 L103.5 783.8 L118.9 768.5 L123.5 765.4 L131.2 760.8 L140.5 754.6 L143.5 754.6 L149.7 739.2 L155.4 732.0 L170.8 731.0 L171.7 727.1 L183.3 727.1 L186.2 721.3 L195.8 710.8 L205.4 701.2 L209.2 698.3 L216.9 695.4 L224.6 694.4 L228.5 692.5 L240.0 690.5 L247.3 688.0 L255.0 678.5 L258.8 674.6 L265.6 674.6 L267.5 670.8 L281.0 670.8 L289.6 660.2 L297.3 658.3 L303.0 654.4 L306.9 651.5 L320.4 647.7 L323.0 641.0 L335.4 639.2 L337.0 636.2 L343.0 633.0 L357.0 632.3 L358.5 629.2 L367.7 628.5 L369.2 626.2 L377.7 626.2 L380.0 622.8 L470.5 622.8" fill="none" stroke="#0f4b8c" stroke-width="2.0" stroke-linejoin="miter"/>
<path d="M282.0 669.6 L289.6 660.2 L297.3 658.3 L303.0 654.4 L306.9 651.5 L320.4 647.7 L322.0 643.6" fill="none" stroke="#0f4b8c" stroke-width="3.4" stroke-linejoin="miter"/>
<path d="M322.0 643.6 L323.0 641.0 L335.4 639.2 L337.0 636.2 L343.0 633.0 L357.0 632.3 L358.5 629.2 L367.7 628.5 L369.2 626.2 L377.7 626.2 L380.0 622.8 L440.0 622.8" fill="none" stroke="#0f4b8c" stroke-width="5.8" stroke-linejoin="miter"/>
<path d="M440.0 622.8 L470.5 622.8" fill="none" stroke="#0f4b8c" stroke-width="3.4" stroke-linejoin="miter"/>
<path d="M90.0 800.1V806.1M92.7 794.9V800.9M95.2 789.8V795.8M98.2 784.9V790.9M101.0 782.7V788.7M104.0 780.3V786.3M107.2 777.1V783.1M109.5 774.8V780.8M111.7 772.7V778.7M115.1 769.2V775.2M116.9 767.5V773.5M119.9 764.8V770.8M122.7 763.0V769.0M124.3 761.9V767.9M127.4 760.1V766.1M130.7 758.1V764.1M133.5 756.3V762.3M136.4 754.3V760.3M139.6 752.2V758.2M141.3 751.6V757.6M143.9 750.6V756.6M146.4 744.4V750.4M149.6 736.5V742.5M152.7 732.4V738.4M155.8 729.0V735.0M158.5 728.8V734.8M161.8 728.6V734.6M164.6 728.4V734.4M167.5 728.2V734.2M169.5 728.1V734.1M171.1 726.9V732.9M172.8 724.1V730.1M175.0 724.1V730.1M176.8 724.1V730.1M179.9 724.1V730.1M182.5 724.1V730.1M185.3 720.1V726.1M188.0 716.3V722.3M190.9 713.1V719.1M193.4 710.4V716.4M194.9 708.8V714.8M198.0 705.6V711.6M201.0 702.6V708.6M203.5 700.1V706.1M206.1 697.7V703.7M208.9 695.5V701.5M210.5 694.8V700.8M213.5 693.7V699.7M215.5 692.9V698.9M217.1 692.4V698.4M219.2 692.1V698.1M222.1 691.7V697.7M224.0 691.5V697.5M227.0 690.2V696.2M230.5 689.2V695.2M233.0 688.7V694.7M235.2 688.3V694.3M237.7 687.9V693.9M240.6 687.3V693.3M243.6 686.3V692.3M246.3 685.3V691.3M249.1 682.8V688.8M250.8 680.7V686.7M252.6 678.5V684.5M254.6 676.0V682.0M257.5 672.9V678.9M259.7 671.6V677.6M262.3 671.6V677.6M263.8 671.6V677.6M265.4 671.6V677.6M267.5 667.8V673.8M270.3 667.8V673.8M273.2 667.8V673.8M276.1 667.8V673.8M278.1 667.8V673.8M280.0 667.9V673.7M281.7 667.1V672.9M283.3 665.1V670.9M284.5 663.6V669.4M286.7 660.8V666.6M288.0 659.3V665.1M290.4 657.1V662.9M292.7 656.5V662.3M293.7 656.3V662.1M295.3 655.9V661.7M297.5 655.3V661.1M299.8 653.7V659.5M301.4 652.6V658.4M302.8 651.6V657.4M304.1 650.7V656.5M306.4 648.9V654.7M307.8 648.4V654.2M309.6 647.9V653.7M310.8 647.5V653.3M312.5 647.0V652.8M314.8 646.4V652.2M316.0 646.0V651.8M318.2 645.4V651.2M319.9 644.9V650.7M440.0 619.7V625.9M442.3 619.7V625.9M443.9 619.7V625.9M446.5 619.7V625.9M448.5 619.7V625.9M449.7 619.7V625.9M451.0 619.7V625.9M452.9 619.7V625.9M454.9 619.7V625.9M456.5 619.7V625.9M458.0 619.7V625.9M459.7 619.7V625.9M461.4 619.7V625.9M464.0 619.7V625.9M465.2 619.7V625.9M467.6 619.7V625.9M470.1 619.7V625.9" stroke="#0f4b8c" stroke-width="1.1"/>
<path d="M83.0 816.5 L91.2 800.8 L97.4 791.5 L105.0 786.9 L118.9 774.6 L128.2 768.5 L140.5 760.8 L143.5 761.0 L149.7 746.9 L155.8 741.5 L157.3 739.6 L168.8 739.6 L172.7 735.8 L183.3 736.7 L187.1 731.0 L197.7 723.3 L205.4 715.6 L216.9 709.8 L228.5 706.9 L240.0 704.0 L247.3 701.5 L255.0 689.0 L264.6 685.2 L281.9 685.2 L287.7 680.4 L297.3 672.7 L306.9 667.9 L318.5 664.0 L323.8 659.2 L332.3 656.2 L337.0 654.0 L343.0 652.2 L357.0 651.4 L358.5 649.0 L367.7 647.6 L369.2 645.8 L378.5 645.8 L380.0 643.8 L472.6 643.8" fill="none" stroke="#37a837" stroke-width="2.0" stroke-linejoin="miter"/>
<path d="M282.0 685.1 L287.7 680.4 L297.3 672.7 L306.9 667.9 L318.5 664.0 L323.8 659.2 L325.0 658.8" fill="none" stroke="#37a837" stroke-width="3.4" stroke-linejoin="miter"/>
<path d="M325.0 658.8 L332.3 656.2 L337.0 654.0 L343.0 652.2 L357.0 651.4 L358.5 649.0 L367.7 647.6 L369.2 645.8 L378.5 645.8 L380.0 643.8 L440.0 643.8" fill="none" stroke="#37a837" stroke-width="5.8" stroke-linejoin="miter"/>
<path d="M440.0 643.8 L472.6 643.8" fill="none" stroke="#37a837" stroke-width="3.4" stroke-linejoin="miter"/>
<path d="M90.0 800.1V806.1M93.4 794.6V800.6M96.3 790.2V796.2M99.6 787.2V793.2M101.7 785.9V791.9M103.9 784.6V790.6M106.2 782.8V788.8M109.7 779.8V785.8M112.4 777.4V783.4M114.6 775.4V781.4M116.9 773.3V779.3M119.0 771.5V777.5M120.6 770.5V776.5M122.3 769.4V775.4M125.5 767.3V773.3M127.5 765.9V771.9M130.9 763.8V769.8M132.9 762.6V768.6M134.9 761.3V767.3M137.5 759.7V765.7M139.3 758.5V764.5M141.6 757.9V763.9M145.0 754.6V760.6M148.3 747.2V753.2M151.4 742.4V748.4M154.2 740.0V746.0M157.5 736.6V742.6M160.9 736.6V742.6M163.5 736.6V742.6M166.4 736.6V742.6M168.0 736.6V742.6M171.0 734.5V740.5M173.4 732.9V738.9M176.4 733.1V739.1M179.2 733.3V739.3M181.2 733.5V739.5M182.8 733.7V739.7M186.2 729.4V735.4M187.9 727.4V733.4M190.4 725.6V731.6M192.6 724.0V730.0M194.7 722.5V728.5M197.6 720.3V726.3M201.1 716.9V722.9M203.1 714.9V720.9M205.9 712.3V718.3M208.0 711.3V717.3M210.6 710.0V716.0M212.9 708.8V714.8M214.8 707.9V713.9M216.6 707.0V713.0M218.5 706.4V712.4M221.8 705.6V711.6M224.3 704.9V710.9M226.3 704.5V710.5M229.6 703.6V709.6M233.1 702.8V708.8M235.5 702.1V708.1M237.2 701.7V707.7M239.1 701.2V707.2M240.8 700.7V706.7M243.0 700.0V706.0M244.7 699.4V705.4M246.6 698.7V704.7M248.7 696.3V702.3M251.3 692.0V698.0M254.6 686.7V692.7M257.6 685.0V691.0M259.9 684.1V690.1M262.2 683.1V689.1M264.8 682.2V688.2M267.0 682.2V688.2M269.2 682.2V688.2M270.8 682.2V688.2M272.9 682.2V688.2M276.3 682.2V688.2M278.1 682.2V688.2M280.0 682.3V688.1M281.9 682.3V688.1M284.1 680.5V686.3M285.4 679.4V685.2M286.8 678.3V684.1M288.1 677.2V683.0M289.7 675.9V681.7M291.3 674.6V680.4M293.6 672.7V678.5M295.8 671.0V676.8M298.0 669.4V675.2M299.1 668.9V674.7M300.1 668.4V674.2M302.1 667.4V673.2M304.4 666.3V672.1M306.0 665.4V671.2M307.8 664.7V670.5M308.9 664.3V670.1M310.4 663.8V669.6M312.7 663.1V668.9M314.8 662.3V668.1M317.0 661.6V667.4M319.4 660.3V666.1M320.7 659.1V664.9M321.9 658.0V663.8M323.1 656.9V662.7M324.8 655.9V661.7M440.0 640.7V646.9M442.7 640.7V646.9M445.1 640.7V646.9M447.3 640.7V646.9M449.7 640.7V646.9M451.7 640.7V646.9M453.7 640.7V646.9M455.0 640.7V646.9M457.4 640.7V646.9M459.0 640.7V646.9M461.7 640.7V646.9M463.9 640.7V646.9M465.6 640.7V646.9M467.0 640.7V646.9M468.6 640.7V646.9M470.8 640.7V646.9" stroke="#37a837" stroke-width="1.1"/>
</svg></body></html>
